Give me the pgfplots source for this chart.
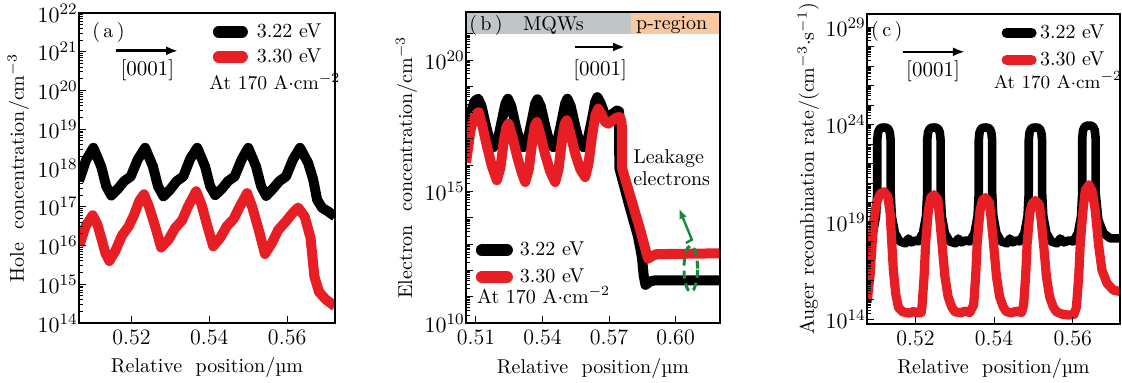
\documentclass[border=0pt]{standalone}
\usepackage{pgfplots}
\pgfplotsset{compat=1.18}
\usepackage{pgfplotstable}
\usetikzlibrary{arrows.meta}
\definecolor{cred}{RGB}{232,30,37}
\definecolor{cgray}{RGB}{192,197,200}
\definecolor{corange}{RGB}{249,200,160}
\definecolor{cgreen}{RGB}{25,135,60}

\pgfplotstableread{
x ly
0.5065 17.66
0.5083 18.20
0.5102 18.52
0.5122 18.04
0.5135 17.53
0.5148 17.29
0.5165 17.46
0.5181 17.66
0.5198 17.78
0.5216 18.22
0.5235 18.52
0.5255 18.04
0.5268 17.53
0.5282 17.27
0.5299 17.44
0.5316 17.66
0.5333 17.78
0.5351 18.24
0.5369 18.52
0.5389 18.04
0.5402 17.53
0.5415 17.30
0.5432 17.46
0.5448 17.66
0.5465 17.78
0.5483 18.22
0.5500 18.52
0.5520 18.04
0.5533 17.53
0.5546 17.28
0.5563 17.46
0.5580 17.66
0.5597 17.78
0.5615 18.22
0.5633 18.52
0.5654 18.13
0.5667 17.70
0.5677 17.18
0.5690 16.97
0.5705 16.88
0.5723 16.75
}\aK

\pgfplotstableread{
x ly
0.5066 16.00
0.5082 16.50
0.5100 16.78
0.5112 16.55
0.5122 16.20
0.5133 15.80
0.5143 15.60
0.5158 15.85
0.5175 16.25
0.5193 16.50
0.5207 16.80
0.5220 17.15
0.5232 17.32
0.5245 17.00
0.5262 16.45
0.5276 15.95
0.5295 16.15
0.5312 16.45
0.5330 16.65
0.5345 17.00
0.5366 17.40
0.5380 17.05
0.5395 16.50
0.5410 15.98
0.5428 16.20
0.5445 16.50
0.5462 16.68
0.5478 17.00
0.5497 17.35
0.5510 17.00
0.5527 16.40
0.5543 15.78
0.5560 16.05
0.5577 16.40
0.5595 16.60
0.5611 16.80
0.5628 16.98
0.5645 16.75
0.5660 16.20
0.5670 15.20
0.5682 14.80
0.5700 14.60
0.5723 14.43
}\aR

\pgfplotstableread{
x ly
0.5055 17.40
0.5063 17.60
0.5078 18.05
0.5095 18.45
0.5110 18.53
0.5125 18.25
0.5145 17.50
0.5165 16.85
0.5179 16.69
0.5199 17.00
0.5219 17.80
0.5233 18.35
0.5244 18.53
0.5259 18.25
0.5279 17.50
0.5299 16.85
0.5314 16.69
0.5334 17.00
0.5354 17.80
0.5367 18.35
0.5377 18.51
0.5392 18.25
0.5412 17.50
0.5432 16.85
0.5449 16.69
0.5469 17.00
0.5489 17.80
0.5502 18.35
0.5512 18.53
0.5527 18.25
0.5547 17.50
0.5567 16.85
0.5584 16.69
0.5604 17.00
0.5624 17.80
0.5637 18.40
0.5647 18.59
0.5660 18.40
0.5680 17.95
0.5696 17.83
0.5715 17.95
0.5735 18.08
0.5745 18.05
0.5746 15.90
0.5790 14.50
0.5830 13.30
0.5848 12.50
0.5856 11.80
0.5864 11.45
0.5885 11.58
0.5905 11.62
0.6200 11.62
}\bK

\pgfplotstableread{
x ly
0.5055 16.10
0.5061 16.45
0.5075 17.30
0.5090 17.85
0.5112 18.02
0.5130 17.45
0.5150 16.70
0.5172 15.95
0.5194 15.43
0.5210 15.90
0.5225 16.90
0.5237 17.45
0.5247 17.58
0.5265 17.05
0.5285 16.35
0.5305 15.75
0.5322 15.36
0.5338 15.85
0.5353 16.85
0.5365 17.50
0.5374 17.64
0.5392 17.10
0.5412 16.40
0.5435 15.75
0.5457 15.36
0.5472 15.85
0.5487 16.90
0.5499 17.55
0.5509 17.71
0.5527 17.15
0.5547 16.45
0.5570 15.85
0.5592 15.55
0.5607 16.05
0.5623 17.10
0.5638 17.90
0.5651 18.15
0.5665 17.95
0.5682 17.65
0.5696 17.58
0.5715 17.70
0.5735 17.82
0.5750 17.83
0.5757 17.60
0.5758 15.90
0.5800 14.70
0.5840 13.55
0.5869 12.64
0.5876 12.45
0.5895 12.55
0.5914 12.62
0.6200 12.65
}\bR

\pgfplotstableread{
x ly
0.5077 18.10
0.5092 18.42
0.5100 19.30
0.5103 20.50
0.5103 23.20
0.5105 23.60
0.5109 23.78
0.5114 23.84
0.5120 23.85
0.5126 23.84
0.5131 23.78
0.5135 23.60
0.5137 23.20
0.5137 20.50
0.5140 19.30
0.5148 18.42
0.5160 18.00
0.5175 17.90
0.5182 18.15
0.5190 17.95
0.5200 18.05
0.5207 18.00
0.5219 18.42
0.5227 19.30
0.5230 20.50
0.5230 23.20
0.5232 23.60
0.5236 23.78
0.5241 23.84
0.5247 23.85
0.5253 23.84
0.5258 23.78
0.5262 23.60
0.5264 23.20
0.5264 20.50
0.5267 19.30
0.5275 18.42
0.5287 18.00
0.5302 17.90
0.5309 18.15
0.5317 17.95
0.5327 18.05
0.5338 18.00
0.5350 18.42
0.5358 19.30
0.5361 20.50
0.5361 23.20
0.5363 23.60
0.5367 23.78
0.5372 23.84
0.5378 23.85
0.5384 23.84
0.5389 23.78
0.5393 23.60
0.5395 23.20
0.5395 20.50
0.5398 19.30
0.5406 18.42
0.5418 18.00
0.5433 17.90
0.5440 18.15
0.5448 17.95
0.5456 18.05
0.5465 18.00
0.5477 18.42
0.5485 19.30
0.5488 20.50
0.5488 23.20
0.5490 23.60
0.5494 23.78
0.5499 23.84
0.5505 23.85
0.5511 23.84
0.5516 23.78
0.5520 23.60
0.5522 23.20
0.5522 20.50
0.5525 19.30
0.5533 18.42
0.5545 18.00
0.5560 17.90
0.5568 18.15
0.5578 17.95
0.5590 18.05
0.5601 18.00
0.5613 18.42
0.5621 19.30
0.5624 20.50
0.5624 23.30
0.5626 23.70
0.5630 23.88
0.5635 23.94
0.5641 23.95
0.5647 23.94
0.5652 23.88
0.5656 23.70
0.5658 23.30
0.5658 20.50
0.5665 19.10
0.5678 18.42
0.5695 18.16
0.5722 18.16
}\cK

\pgfplotstableread{
x ly
0.5077 14.85
0.5085 16.30
0.5090 17.90
0.5095 19.30
0.5103 20.10
0.5111 20.45
0.5120 20.55
0.5130 20.30
0.5136 19.40
0.5140 17.90
0.5144 16.50
0.5150 15.30
0.5157 14.60
0.5168 14.38
0.5185 14.32
0.5195 14.40
0.5205 14.33
0.5215 14.35
0.5217 14.73
0.5222 16.19
0.5226 17.90
0.5233 19.61
0.5239 20.25
0.5247 20.40
0.5257 20.15
0.5262 19.10
0.5269 17.56
0.5275 16.19
0.5283 15.16
0.5292 14.65
0.5300 14.39
0.5315 14.33
0.5325 14.42
0.5338 14.35
0.5348 14.73
0.5353 16.19
0.5357 17.90
0.5364 19.55
0.5370 20.10
0.5378 20.25
0.5388 20.00
0.5393 19.05
0.5400 17.56
0.5406 16.19
0.5414 15.16
0.5423 14.65
0.5431 14.39
0.5445 14.33
0.5455 14.42
0.5470 14.35
0.5475 14.73
0.5480 16.19
0.5484 17.90
0.5491 19.50
0.5497 19.95
0.5505 20.10
0.5515 19.90
0.5520 19.00
0.5527 17.56
0.5533 16.19
0.5541 15.16
0.5550 14.65
0.5558 14.39
0.5575 14.25
0.5590 14.22
0.5603 14.25
0.5609 14.60
0.5615 16.19
0.5619 17.90
0.5626 19.61
0.5632 20.64
0.5641 20.90
0.5649 20.60
0.5657 19.61
0.5665 17.90
0.5674 16.53
0.5687 15.85
0.5703 15.50
0.5722 15.42
}\cR

\pgfplotsset{
  mypanel/.style={
    scale only axis, axis on top, clip=true, clip mode=individual,
    tick pos=left, tick align=inside,
    major tick length=3.5pt, minor tick length=2pt,
    tick style={black, line width=0.5pt},
    axis line style={line width=0.6pt},
    ticklabel style={font=\fontsize{11}{13}\selectfont},
    yticklabel style={inner xsep=0.5pt},
    label style={font=\fontsize{10}{12}\selectfont},
    xlabel style={at={(axis description cs:0.5,-0.145)}, anchor=center},
    legend cell align=left,
  },
}

\begin{document}
\begin{tikzpicture}
\path[use as bounding box] (0pt,0pt) rectangle (561pt,191.5pt);

% ---------------- (a) ----------------
\begin{axis}[mypanel, ymode=log,
  at={(39.5pt,30pt)}, anchor=south west, width=128pt, height=155pt,
  xmin=0.5065, xmax=0.5723, ymin=1e14, ymax=1e22,
  xtick={0.52,0.54,0.56}, xticklabels={0.52,0.54,0.56},
  ytick={1e14,1e15,1e16,1e17,1e18,1e19,1e20,1e21,1e22},
  xlabel={Relative\ \ position/µm},
  ylabel={Hole\ \ concentration/cm$^{-3}$},
  ylabel style={at={(axis description cs:-0.237,0.5)}, anchor=center},
  legend style={at={(axis description cs:0.523,0.98)}, anchor=north west,
    draw=none, fill=none, inner sep=0pt, outer sep=0pt, row sep=0pt, column sep=0pt,
    nodes={inner sep=0pt}, font=\fontsize{10}{12}\selectfont},
  legend image code/.code={\path[draw=none,fill=none] (0pt,-6.25pt) rectangle (22pt,6.25pt);
    \draw[#1,line width=6pt,line cap=round] (3pt,0pt) -- (14.5pt,0pt);},
]
\addplot[black, line width=5pt, line join=round] table[x=x, y expr=10^\thisrow{ly}] {\aK};
\addlegendentry{3.22 eV}
\addplot[cred, line width=5pt, line join=round] table[x=x, y expr=10^\thisrow{ly}] {\aR};
\addlegendentry{3.30 eV}
\node[anchor=center, font=\fontsize{10}{12}\selectfont] at (axis description cs:0.115,0.936) {(\,a\,)};
\draw[line width=1.3pt, -{Latex[length=6pt,width=4.5pt]}] (axis description cs:0.145,0.878) -- (axis description cs:0.387,0.878);
\node[anchor=center, font=\fontsize{10.5}{12}\selectfont] at (axis description cs:0.267,0.816) {[0001]};
\node[anchor=west, font=\fontsize{9.8}{12}\selectfont, inner sep=0pt] at (axis description cs:0.508,0.778) {At 170 A$\cdot$cm$^{-2}$};
\end{axis}

% ---------------- (b) ----------------
\begin{axis}[mypanel, ymode=log,
  at={(233pt,30pt)}, anchor=south west, width=127pt, height=155.5pt,
  xmin=0.5055, xmax=0.62, ymin=1e10, ymax=6.76e21,
  xtick={0.51,0.54,0.57,0.60}, xticklabels={0.51,0.54,0.57,0.60},
  ytick={1e10,1e11,1e12,1e13,1e14,1e15,1e16,1e17,1e18,1e19,1e20,1e21},
  yticklabels={$10^{10}$,,,,,$10^{15}$,,,,,$10^{20}$,},
  xlabel={Relative\ \ position/µm},
  ylabel={Electron\ \ concentration/cm$^{-3}$},
  ylabel style={at={(axis description cs:-0.234,0.5)}, anchor=center},
  legend style={at={(axis description cs:0.039,0.2765)}, anchor=north west,
    draw=none, fill=none, inner sep=0pt, outer sep=0pt, row sep=0pt, column sep=0pt,
    nodes={inner sep=0pt}, font=\fontsize{10}{12}\selectfont},
  legend image code/.code={\path[draw=none,fill=none] (0pt,-6.65pt) rectangle (22pt,6.65pt);
    \draw[#1,line width=6pt,line cap=round] (3pt,0pt) -- (15.5pt,0pt);},
]
\fill[cgray] (rel axis cs:0,0.9305) rectangle (rel axis cs:0.651,1);
\fill[corange] (rel axis cs:0.651,0.9305) rectangle (rel axis cs:1,1);
\addplot[black, line width=5pt, line join=round] table[x=x, y expr=10^\thisrow{ly}] {\bK};
\addlegendentry{3.22 eV}
\addplot[cred, line width=5pt, line join=round] table[x=x, y expr=10^\thisrow{ly}] {\bR};
\addlegendentry{3.30 eV}
\node[anchor=center, font=\fontsize{10}{12}\selectfont] at (axis description cs:0.079,0.957) {(\,b\,)};
\node[anchor=center, font=\fontsize{10}{12}\selectfont] at (axis description cs:0.344,0.957) {MQWs};
\node[anchor=center, font=\fontsize{10}{12}\selectfont] at (axis description cs:0.81,0.957) {p-region};
\draw[line width=1.3pt, -{Latex[length=6pt,width=4.5pt]}] (axis description cs:0.429,0.8875) -- (axis description cs:0.626,0.8875);
\node[anchor=center, font=\fontsize{10.5}{12}\selectfont] at (axis description cs:0.528,0.8125) {[0001]};
\node[anchor=west, align=left, inner sep=0pt, font=\fontsize{10}{10.8}\selectfont] at (axis description cs:0.657,0.499) {Leakage\\electrons};
\node[anchor=west, font=\fontsize{10}{12}\selectfont, inner sep=0pt] at (axis description cs:0.042,0.089) {At 170 A$\cdot$cm$^{-2}$};
\draw[cgreen, line width=1.5pt, dash pattern=on 4pt off 2.5pt] (axis cs:0.6068,1.17e12) ellipse [x radius=3.4pt, y radius=11.5pt];
\draw[cgreen, line width=1.2pt, -{Latex[length=5pt,width=4pt]}] (axis cs:0.6046,1.1e13) -- (axis cs:0.6073,1.48e13) -- (axis cs:0.6016,2.24e14);
\end{axis}

% ---------------- (c) ----------------
\begin{axis}[mypanel, ymode=log,
  at={(433.5pt,29.5pt)}, anchor=south west, width=126.5pt, height=155pt,
  xmin=0.5077, xmax=0.5720, ymin=5.75e13, ymax=4.79e29,
  xtick={0.52,0.54,0.56}, xticklabels={0.52,0.54,0.56},
  ytick={1e14,1e15,1e16,1e17,1e18,1e19,1e20,1e21,1e22,1e23,1e24,1e25,1e26,1e27,1e28,1e29},
  yticklabels={$10^{14}$,,,,,$10^{19}$,,,,,$10^{24}$,,,,,$10^{29}$},
  xlabel={Relative\ \ position/µm},
  ylabel={Auger recombination rate/(cm$^{-3}\cdot$s$^{-1}$)},
  ylabel style={at={(axis description cs:-0.232,0.5)}, anchor=center},
  legend style={at={(axis description cs:0.532,0.982)}, anchor=north west,
    draw=none, fill=none, inner sep=0pt, outer sep=0pt, row sep=0pt, column sep=0pt,
    nodes={inner sep=0pt}, font=\fontsize{10}{12}\selectfont},
  legend image code/.code={\path[draw=none,fill=none] (0pt,-6.75pt) rectangle (19.2pt,6.75pt);
    \draw[#1,line width=5pt,line cap=round] (2.5pt,0pt) -- (15pt,0pt);},
]
\addplot[black, line width=4.3pt, line join=round] table[x=x, y expr=10^\thisrow{ly}] {\cK};
\addlegendentry{3.22 eV}
\addplot[cred, line width=4.6pt, line join=round] table[x=x, y expr=10^\thisrow{ly}] {\cR};
\addlegendentry{3.30 eV}
\node[anchor=center, font=\fontsize{10}{12}\selectfont] at (axis description cs:0.078,0.943) {(\,c\,)};
\draw[line width=1.3pt, -{Latex[length=6pt,width=4.5pt]}] (axis description cs:0.141,0.878) -- (axis description cs:0.387,0.878);
\node[anchor=center, font=\fontsize{10.5}{12}\selectfont] at (axis description cs:0.261,0.814) {[0001]};
\node[anchor=west, font=\fontsize{9.3}{12}\selectfont, inner sep=0pt] at (axis description cs:0.500,0.787) {At 170 A$\cdot$cm$^{-2}$};
\end{axis}
\end{tikzpicture}
\end{document}
